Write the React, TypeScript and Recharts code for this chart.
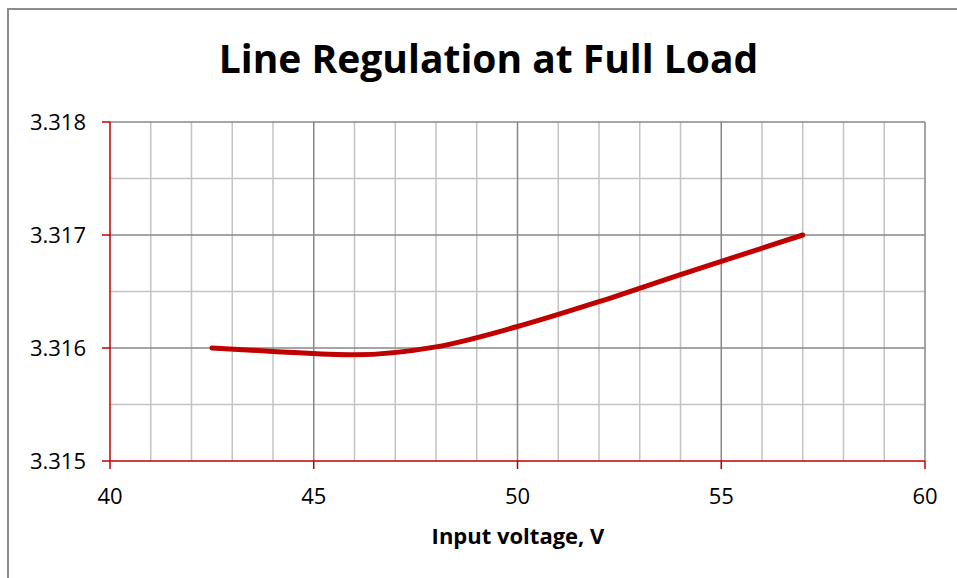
import { LineChart, Line, XAxis, YAxis, ReferenceLine } from 'recharts'

// input voltage (V) and output voltage (V)
const vin = [42.5, 44, 46, 48, 50, 52, 54, 57]
const vout = [3.316, 3.31597, 3.31594, 3.31601, 3.31619, 3.31641, 3.31665, 3.317]

const xTicks = [40, 45, 50, 55, 60]
const xMinor = [41, 42, 43, 44, 46, 47, 48, 49, 51, 52, 53, 54, 56, 57, 58, 59]
const yTicks = [3.315, 3.316, 3.317, 3.318]
const yMinor = [3.3155, 3.3165, 3.3175]

const data = vin.map((v, i) => ({ vin: v, vout: vout[i] }))

const RED = '#c00000'
const MAJOR = '#878787'
const MINOR = '#c3c3c3'
const FONT = '"Open Sans", sans-serif'

export default function App() {
  return (
    <div style={{ position: 'absolute', left: 0, top: 0, width: 957, height: 578, background: '#fff', overflow: 'hidden', fontFamily: FONT }}>
      {/* chart frame, runs off the right/bottom edge */}
      <div style={{ position: 'absolute', left: 7, top: 8, width: 1000, height: 700, border: '2px solid #8c8c8c', boxSizing: 'border-box' }} />
      <div style={{ position: 'absolute', left: 0, width: 977, top: 31, textAlign: 'center', fontSize: 39, fontWeight: 700, color: '#000' }}>
        Line Regulation at Full Load
      </div>
      <div style={{ position: 'absolute', left: 0, width: 1036, top: 520, textAlign: 'center', fontSize: 22, fontWeight: 700, color: '#000' }}>
        Input voltage, V
      </div>
      <div style={{ position: 'absolute', left: 0, top: 0 }}>
        <LineChart width={957} height={578} data={data} margin={{ top: 122, right: 32, bottom: 77, left: 10 }}>
          {xMinor.map(x => <ReferenceLine key={'xm' + x} x={x} stroke={MINOR} strokeWidth={1.5} />)}
          {yMinor.map(y => <ReferenceLine key={'ym' + y} y={y} stroke={MINOR} strokeWidth={1.5} />)}
          {xTicks.slice(1).map(x => <ReferenceLine key={'xM' + x} x={x} stroke={MAJOR} strokeWidth={1.5} />)}
          {yTicks.slice(1).map(y => <ReferenceLine key={'yM' + y} y={y} stroke={MAJOR} strokeWidth={1.5} />)}
          <XAxis
            dataKey="vin"
            type="number"
            domain={[40, 60]}
            ticks={xTicks}
            allowDataOverflow
            stroke={RED}
            strokeWidth={1.5}
            tickSize={8}
            tickMargin={19}
            height={40}
            tick={{ fill: '#000', fontSize: 22, fontFamily: FONT }}
          />
          <YAxis
            type="number"
            domain={[3.315, 3.318]}
            ticks={yTicks}
            allowDataOverflow
            tickFormatter={v => v.toFixed(3)}
            stroke={RED}
            strokeWidth={1.5}
            tickSize={8}
            tickMargin={16}
            width={100}
            tick={{ fill: '#000', fontSize: 22, fontFamily: FONT }}
          />
          <Line
            type="monotone"
            dataKey="vout"
            stroke={RED}
            strokeWidth={5}
            strokeLinecap="round"
            dot={false}
            activeDot={false}
            isAnimationActive={false}
          />
        </LineChart>
      </div>
    </div>
  )
}
